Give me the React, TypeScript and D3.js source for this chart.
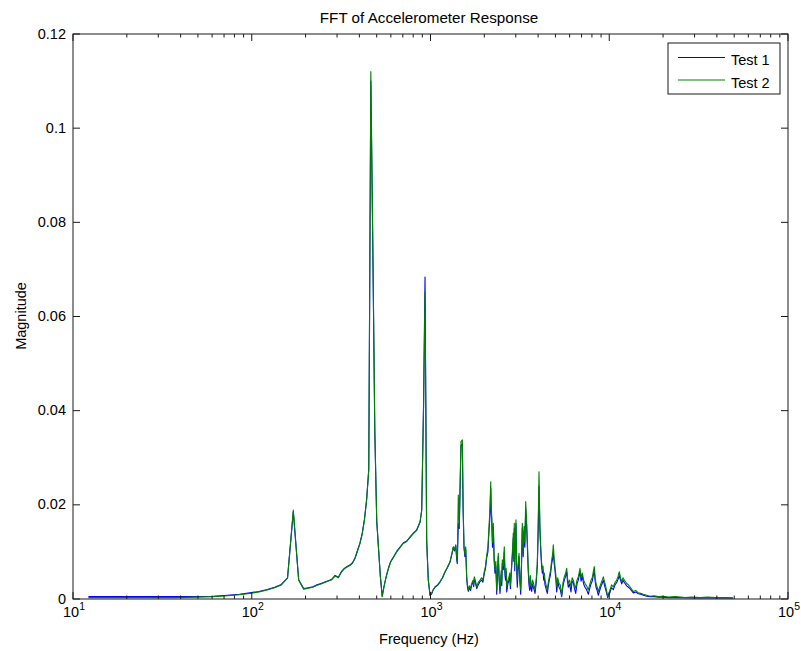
import React from "react";
import * as d3 from "d3";

// Spectrum sample frequencies (Hz) shared by both tests
const freqHz = [
  12.2, 24.4, 36.6, 48.8, 61.0, 73.2, 85.4, 97.6, 109.8, 122.0,
  134.2, 146.4, 158.6, 170.8, 183.0, 195.2, 207.4, 219.6, 231.8, 244.0,
  256.2, 268.4, 280.6, 292.8, 305.0, 317.2, 329.4, 341.6, 353.8, 366.0,
  378.2, 390.4, 402.6, 414.8, 427.0, 439.2, 451.4, 463.6, 475.8, 488.0,
  500.2, 512.4, 524.6, 536.8, 549.0, 561.2, 573.4, 585.6, 597.8, 647,
  704, 736, 768, 801, 837, 874, 893, 914, 932, 952,
  972, 994, 1015, 1035, 1060, 1095, 1130, 1165, 1205, 1245,
  1285, 1315, 1341, 1362, 1384, 1400, 1412, 1431, 1449, 1465,
  1481, 1507, 1522, 1540, 1557, 1574, 1594, 1610, 1628, 1650,
  1675, 1701, 1730, 1745, 1759, 1785, 1814, 1850, 1892, 1930,
  1965, 2000, 2030, 2063, 2095, 2125, 2150, 2172, 2186, 2200,
  2222, 2246, 2270, 2295, 2320, 2347, 2370, 2395, 2420, 2448,
  2485, 2505, 2522, 2555, 2587, 2610, 2630, 2650, 2669, 2710,
  2749, 2775, 2800, 2847, 2880, 2906, 2925, 2943, 2960, 2975,
  3008, 3030, 3059, 3090, 3127, 3160, 3196, 3230, 3263, 3300,
  3335, 3370, 3409, 3445, 3480, 3520, 3557, 3590, 3620, 3650,
  3683, 3720, 3760, 3800, 3843, 3900, 3958, 4000, 4046, 4090,
  4135, 4180, 4222, 4260, 4300, 4335, 4371, 4430, 4502, 4560,
  4619, 4690, 4765, 4820, 4864, 4920, 4972, 5030, 5082, 5150,
  5235, 5320, 5420, 5510, 5605, 5700, 5781, 5840, 5901, 6000,
  6109, 6200, 6294, 6390, 6491, 6600, 6713, 6862, 6960, 7067,
  7190, 7317, 7470, 7635, 7770, 7906, 8030, 8144, 8248, 8340,
  8432, 8560, 8684, 8840, 8992, 9130, 9263, 9468, 9640, 9802,
  10097, 10300, 10535, 10770, 11008, 11200, 11383, 11560, 11742, 11940,
  12141, 12522, 12800, 13066, 13634, 14100, 14540, 15000, 15505, 16200,
  16904, 17800, 18812, 20000, 21400, 23500, 26540, 29000, 32190, 35500,
  39050, 44000, 49250,
];

// Test 1 magnitude
const test1Mag = [
  0.0005, 0.0005, 0.0005, 0.0005, 0.0006, 0.0008, 0.0010, 0.0013, 0.0016, 0.0020,
  0.0025, 0.0031, 0.0045, 0.0185, 0.0041, 0.0022, 0.0024, 0.0026, 0.0030, 0.0033,
  0.0036, 0.0039, 0.0042, 0.0050, 0.0046, 0.0058, 0.0065, 0.0069, 0.0072, 0.0077,
  0.0087, 0.0103, 0.0118, 0.0139, 0.0169, 0.0211, 0.0275, 0.1100, 0.0740, 0.0355,
  0.0165, 0.0104, 0.0046, 0.0006, 0.0026, 0.0043, 0.0057, 0.0069, 0.0079, 0.0101,
  0.0119, 0.0123, 0.0131, 0.0139, 0.0146, 0.0163, 0.0188, 0.0410, 0.0684, 0.0125,
  0.0041, 0.0007, 0.0011, 0.0019, 0.0025, 0.0029, 0.0036, 0.0044, 0.0057, 0.0067,
  0.0078, 0.0094, 0.0110, 0.0102, 0.0114, 0.0085, 0.0075, 0.0160, 0.0150, 0.0240,
  0.0325, 0.0330, 0.0190, 0.0108, 0.0090, 0.0105, 0.0044, 0.0025, 0.0016, 0.0024,
  0.0018, 0.0030, 0.0036, 0.0026, 0.0044, 0.0034, 0.0022, 0.0030, 0.0037, 0.0040,
  0.0036, 0.0055, 0.0064, 0.0088, 0.0100, 0.0145, 0.0175, 0.0235, 0.0185, 0.0170,
  0.0110, 0.0150, 0.0080, 0.0055, 0.0070, 0.0010, 0.0050, 0.0090, 0.0040, 0.0012,
  0.0052, 0.0028, 0.0076, 0.0062, 0.0100, 0.0050, 0.0040, 0.0058, 0.0015, 0.0032,
  0.0040, 0.0048, 0.0022, 0.0070, 0.0100, 0.0130, 0.0080, 0.0150, 0.0060, 0.0110,
  0.0160, 0.0070, 0.0025, 0.0060, 0.0090, 0.0040, 0.0010, 0.0070, 0.0150, 0.0090,
  0.0145, 0.0110, 0.0190, 0.0160, 0.0115, 0.0060, 0.0030, 0.0018, 0.0040, 0.0022,
  0.0016, 0.0032, 0.0025, 0.0020, 0.0012, 0.0033, 0.0070, 0.0135, 0.0240, 0.0150,
  0.0105, 0.0072, 0.0055, 0.0060, 0.0040, 0.0045, 0.0030, 0.0022, 0.0012, 0.0028,
  0.0040, 0.0052, 0.0075, 0.0085, 0.0100, 0.0075, 0.0060, 0.0040, 0.0015, 0.0038,
  0.0025, 0.0020, 0.0005, 0.0028, 0.0040, 0.0048, 0.0058, 0.0038, 0.0025, 0.0032,
  0.0015, 0.0038, 0.0035, 0.0022, 0.0012, 0.0032, 0.0040, 0.0058, 0.0038, 0.0048,
  0.0032, 0.0025, 0.0020, 0.0010, 0.0022, 0.0032, 0.0038, 0.0050, 0.0060, 0.0038,
  0.0025, 0.0018, 0.0008, 0.0018, 0.0027, 0.0033, 0.0040, 0.0025, 0.0014, 0.0003,
  0.0014, 0.0024, 0.0020, 0.0030, 0.0035, 0.0042, 0.0050, 0.0040, 0.0032, 0.0040,
  0.0035, 0.0028, 0.0025, 0.0022, 0.0013, 0.0015, 0.0011, 0.0010, 0.0008, 0.0006,
  0.0005, 0.0005, 0.0004, 0.0004, 0.0003, 0.0003, 0.0003, 0.0002, 0.0002, 0.0003,
  0.0002, 0.0003, 0.0002,
];

// Test 2 magnitude
const test2Mag = [
  0.0003, 0.0003, 0.0003, 0.0004, 0.0005, 0.0007, 0.0009, 0.0012, 0.0015, 0.0019,
  0.0024, 0.0030, 0.0045, 0.0189, 0.0040, 0.0021, 0.0023, 0.0025, 0.0029, 0.0032,
  0.0035, 0.0038, 0.0041, 0.0049, 0.0045, 0.0057, 0.0064, 0.0068, 0.0071, 0.0076,
  0.0086, 0.0102, 0.0117, 0.0138, 0.0168, 0.0210, 0.0274, 0.1120, 0.0750, 0.0360,
  0.0168, 0.0106, 0.0047, 0.0005, 0.0025, 0.0042, 0.0056, 0.0068, 0.0078, 0.0100,
  0.0118, 0.0122, 0.0132, 0.0140, 0.0147, 0.0164, 0.0189, 0.0400, 0.0652, 0.0120,
  0.0040, 0.0009, 0.0012, 0.0020, 0.0026, 0.0030, 0.0037, 0.0045, 0.0058, 0.0068,
  0.0079, 0.0095, 0.0111, 0.0105, 0.0115, 0.0090, 0.0079, 0.0221, 0.0154, 0.0250,
  0.0334, 0.0338, 0.0200, 0.0111, 0.0095, 0.0111, 0.0047, 0.0030, 0.0019, 0.0028,
  0.0022, 0.0033, 0.0040, 0.0030, 0.0047, 0.0038, 0.0026, 0.0035, 0.0040, 0.0045,
  0.0040, 0.0058, 0.0070, 0.0093, 0.0110, 0.0154, 0.0190, 0.0249, 0.0200, 0.0175,
  0.0120, 0.0161, 0.0090, 0.0062, 0.0080, 0.0019, 0.0060, 0.0097, 0.0050, 0.0019,
  0.0060, 0.0035, 0.0083, 0.0070, 0.0111, 0.0060, 0.0050, 0.0065, 0.0026, 0.0040,
  0.0047, 0.0055, 0.0030, 0.0076, 0.0110, 0.0140, 0.0090, 0.0161, 0.0070, 0.0120,
  0.0168, 0.0080, 0.0040, 0.0070, 0.0097, 0.0050, 0.0019, 0.0080, 0.0161, 0.0100,
  0.0154, 0.0120, 0.0207, 0.0170, 0.0125, 0.0070, 0.0040, 0.0025, 0.0050, 0.0030,
  0.0026, 0.0040, 0.0035, 0.0028, 0.0019, 0.0040, 0.0076, 0.0150, 0.0270, 0.0160,
  0.0111, 0.0080, 0.0062, 0.0070, 0.0050, 0.0055, 0.0040, 0.0030, 0.0019, 0.0035,
  0.0047, 0.0060, 0.0083, 0.0095, 0.0115, 0.0085, 0.0069, 0.0050, 0.0026, 0.0045,
  0.0033, 0.0030, 0.0008, 0.0035, 0.0047, 0.0055, 0.0065, 0.0045, 0.0033, 0.0040,
  0.0026, 0.0045, 0.0040, 0.0030, 0.0023, 0.0040, 0.0047, 0.0065, 0.0045, 0.0055,
  0.0040, 0.0033, 0.0028, 0.0019, 0.0030, 0.0040, 0.0045, 0.0058, 0.0069, 0.0045,
  0.0033, 0.0025, 0.0016, 0.0025, 0.0033, 0.0040, 0.0047, 0.0033, 0.0020, 0.0005,
  0.0019, 0.0030, 0.0026, 0.0035, 0.0040, 0.0048, 0.0058, 0.0045, 0.0037, 0.0045,
  0.0040, 0.0033, 0.0030, 0.0026, 0.0016, 0.0018, 0.0013, 0.0012, 0.0010, 0.0008,
  0.0006, 0.0007, 0.0005, 0.0006, 0.0004, 0.0005, 0.0003, 0.0004, 0.0003, 0.0004,
  0.0003, 0.0003, 0.0002,
];

const seriesNames = ["Test 1", "Test 2"];
const seriesColors = ["#0000ff", "#008000"];

const yTicks = [0, 0.02, 0.04, 0.06, 0.08, 0.1, 0.12];
const yTickLabels = ["0", "0.02", "0.04", "0.06", "0.08", "0.1", "0.12"];
const xDecades = [10, 100, 1000, 10000, 100000];
const xExponents = ["1", "2", "3", "4", "5"];

const titleText = "FFT of Accelerometer Response";
const xLabelText = "Frequency (Hz)";
const yLabelText = "Magnitude";

export default function App() {
  const width = 801;
  const height = 651;
  const left = 73;
  const right = 788;
  const top = 34;
  const bottom = 599;
  const font = "'Liberation Sans', Arial, Helvetica, sans-serif";
  const axisColor = "#1a1a1a";

  const x = d3.scaleLog().domain([10, 100000]).range([left, right]);
  const y = d3.scaleLinear().domain([0, 0.12]).range([bottom, top]);

  const line = d3
    .line<number>()
    .x((_, i) => x(freqHz[i]))
    .y((d) => y(d));

  const minorTicks: number[] = [];
  xDecades.slice(0, -1).forEach((dec) => {
    for (let k = 2; k <= 9; k++) minorTicks.push(dec * k);
  });

  const majorLen = 7;
  const minorLen = 3.5;

  return (
    <svg
      width={width}
      height={height}
      style={{ position: "absolute", left: 0, top: 0, background: "#fff" }}
      fontFamily={font}
    >
      <rect x={0} y={0} width={width} height={height} fill="#fff" />

      {/* spectra: Test 1 underneath, Test 2 drawn over it */}
      <g fill="none" strokeWidth={1.1} strokeLinejoin="round">
        <path d={line(test1Mag) || ""} stroke={seriesColors[0]} />
        <path d={line(test2Mag) || ""} stroke={seriesColors[1]} />
      </g>

      {/* axes box */}
      <rect
        x={left}
        y={top}
        width={right - left}
        height={bottom - top}
        fill="none"
        stroke={axisColor}
        strokeWidth={1}
      />

      {/* ticks point inward on all four sides */}
      <g stroke={axisColor} strokeWidth={1}>
        {xDecades.map((d) => (
          <g key={`xm${d}`}>
            <line x1={x(d)} x2={x(d)} y1={bottom} y2={bottom - majorLen} />
            <line x1={x(d)} x2={x(d)} y1={top} y2={top + majorLen} />
          </g>
        ))}
        {minorTicks.map((d) => (
          <g key={`xn${d}`}>
            <line x1={x(d)} x2={x(d)} y1={bottom} y2={bottom - minorLen} />
            <line x1={x(d)} x2={x(d)} y1={top} y2={top + minorLen} />
          </g>
        ))}
        {yTicks.map((t) => (
          <g key={`y${t}`}>
            <line x1={left} x2={left + majorLen} y1={y(t)} y2={y(t)} />
            <line x1={right} x2={right - majorLen} y1={y(t)} y2={y(t)} />
          </g>
        ))}
      </g>

      {/* y tick labels */}
      <g fontSize={14.5} fill="#000" textAnchor="end">
        {yTicks.map((t, i) => (
          <text key={`yl${t}`} x={left - 7} y={y(t) + 4.5}>
            {yTickLabels[i]}
          </text>
        ))}
      </g>

      {/* x tick labels: powers of ten */}
      <g fill="#000" textAnchor="middle">
        {xDecades.map((d, i) => (
          <text key={`xl${d}`} x={x(d) + 1} y={617} fontSize={14.5}>
            <tspan>10</tspan>
            <tspan dy={-7} fontSize={10.5}>
              {xExponents[i]}
            </tspan>
          </text>
        ))}
      </g>

      {/* title and axis labels */}
      <text x={429} y={23} fontSize={15.2} textAnchor="middle" fill="#000">
        {titleText}
      </text>
      <text x={429} y={644} fontSize={14.5} textAnchor="middle" fill="#000">
        {xLabelText}
      </text>
      <text
        transform={`translate(26, 316) rotate(-90)`}
        fontSize={14.5}
        textAnchor="middle"
        fill="#000"
      >
        {yLabelText}
      </text>

      {/* legend */}
      <g>
        <rect x={668} y={43} width={112} height={51} fill="#fff" stroke={axisColor} strokeWidth={1} />
        {seriesNames.map((name, i) => (
          <g key={name}>
            <line
              x1={678}
              x2={725}
              y1={57.5 + i * 22.5}
              y2={57.5 + i * 22.5}
              stroke={seriesColors[i]}
              strokeWidth={1.2}
            />
            <text x={731} y={65 + i * 22.5} fontSize={14.5} fill="#000">
              {name}
            </text>
          </g>
        ))}
      </g>
    </svg>
  );
}
